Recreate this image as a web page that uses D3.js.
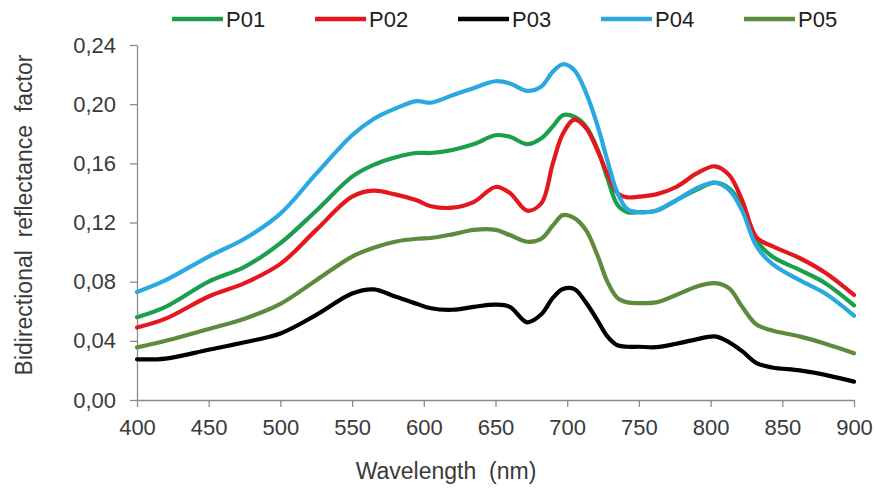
<!DOCTYPE html>
<html>
<head>
<meta charset="utf-8">
<script src="https://cdn.jsdelivr.net/npm/d3@7"></script>
<style>
  html, body { margin: 0; padding: 0; background: #fff; }
  svg { display: block; font-family: "Liberation Sans", Arial, sans-serif; }
  .axis text { fill: #3a3a3a; font-size: 22px; }
  .axis line, .axis path { stroke: #8c8c8c; stroke-width: 1.3; }
</style>
</head>
<body>
<svg id="chart" width="876" height="491"></svg>
<script>
// Wavelengths (nm) at which each spectrum is sampled
const wavelengths = [400, 420, 450, 475, 500, 525, 550, 565, 580, 595, 605, 620, 635, 650, 660, 672, 682, 690, 697, 705, 713, 721, 728, 735, 742, 750, 762, 776, 790, 803, 813, 822, 832, 843, 862, 880, 900];

// Bidirectional reflectance factor per plot
const p01 = [0.056, 0.063, 0.080, 0.090, 0.106, 0.128, 0.151, 0.159, 0.164, 0.167, 0.167, 0.169, 0.173, 0.179, 0.178, 0.173, 0.177, 0.185, 0.1925, 0.1915, 0.185, 0.170, 0.150, 0.132, 0.127, 0.127, 0.128, 0.135, 0.142, 0.147, 0.143, 0.131, 0.108, 0.097, 0.088, 0.079, 0.064];
const p02 = [0.049, 0.055, 0.070, 0.079, 0.092, 0.115, 0.1375, 0.1415, 0.139, 0.135, 0.131, 0.130, 0.134, 0.144, 0.140, 0.128, 0.133, 0.160, 0.180, 0.1895, 0.184, 0.169, 0.153, 0.140, 0.137, 0.1375, 0.139, 0.144, 0.153, 0.158, 0.152, 0.135, 0.110, 0.104, 0.096, 0.086, 0.071];
const p03 = [0.0275, 0.028, 0.034, 0.039, 0.045, 0.0575, 0.072, 0.0748, 0.070, 0.065, 0.062, 0.061, 0.063, 0.0645, 0.063, 0.0525, 0.058, 0.069, 0.075, 0.075, 0.066, 0.054, 0.043, 0.037, 0.036, 0.036, 0.0357, 0.038, 0.041, 0.043, 0.039, 0.033, 0.025, 0.022, 0.020, 0.017, 0.0124];
const p04 = [0.073, 0.081, 0.097, 0.109, 0.126, 0.153, 0.179, 0.190, 0.197, 0.202, 0.201, 0.206, 0.211, 0.2155, 0.214, 0.209, 0.212, 0.222, 0.227, 0.223, 0.208, 0.186, 0.162, 0.140, 0.129, 0.127, 0.128, 0.135, 0.143, 0.147, 0.142, 0.128, 0.104, 0.092, 0.081, 0.072, 0.057];
const p05 = [0.0356, 0.040, 0.048, 0.055, 0.065, 0.081, 0.097, 0.103, 0.107, 0.109, 0.1095, 0.112, 0.115, 0.115, 0.1115, 0.107, 0.109, 0.118, 0.125, 0.123, 0.115, 0.098, 0.080, 0.069, 0.066, 0.0655, 0.066, 0.071, 0.0766, 0.079, 0.0755, 0.063, 0.051, 0.047, 0.043, 0.038, 0.0316];

const seriesNames = ["P01", "P02", "P03", "P04", "P05"];
const seriesValues = [p01, p02, p03, p04, p05];
const seriesColors = ["#1c9f4c", "#e3171d", "#000000", "#29a9e0", "#5d8a3b"];

const xTicks = [400, 450, 500, 550, 600, 650, 700, 750, 800, 850, 900];
const yTicks = [0, 0.04, 0.08, 0.12, 0.16, 0.20, 0.24];

const margin = { left: 137, right: 22, top: 45, bottom: 91 };
const W = 876, H = 491;

const svg = d3.select("#chart");

const x = d3.scaleLinear().domain([400, 900]).range([margin.left, W - margin.right]);
const y = d3.scaleLinear().domain([0, 0.24]).range([H - margin.bottom, margin.top]);

// Axes
const fmt = d => d.toFixed(2).replace(".", ",");

svg.append("g")
  .attr("class", "axis")
  .attr("transform", `translate(0,${y(0)})`)
  .call(d3.axisBottom(x).tickValues(xTicks).tickSize(7).tickSizeOuter(0).tickPadding(12));

svg.append("g")
  .attr("class", "axis")
  .attr("transform", `translate(${x(400)},0)`)
  .call(d3.axisLeft(y).tickValues(yTicks).tickFormat(fmt).tickSize(7).tickSizeOuter(0).tickPadding(14));

// Spectra
const line = d3.line()
  .x((d, i) => x(wavelengths[i]))
  .y(d => y(d))
  .curve(d3.curveCatmullRom.alpha(0.5));

svg.append("g")
  .selectAll("path")
  .data(seriesValues)
  .join("path")
  .attr("d", line)
  .attr("fill", "none")
  .attr("stroke", (d, i) => seriesColors[i])
  .attr("stroke-width", 4.2)
  .attr("stroke-linejoin", "round")
  .attr("stroke-linecap", "round");

// Legend
const legend = svg.append("g")
  .selectAll("g")
  .data(seriesNames)
  .join("g")
  .attr("transform", (d, i) => `translate(${172 + i * 143},19)`);

legend.append("line")
  .attr("x1", 0).attr("x2", 51)
  .attr("stroke", (d, i) => seriesColors[i])
  .attr("stroke-width", 4.5);

legend.append("text")
  .attr("x", 54)
  .attr("y", 8)
  .attr("fill", "#202020")
  .style("font-size", "22px")
  .text(d => d);

// Axis titles
svg.append("text")
  .attr("x", 446)
  .attr("y", 479)
  .attr("text-anchor", "middle")
  .attr("fill", "#3a3a3a")
  .style("font-size", "23px")
  .style("white-space", "pre")
  .text("Wavelength  (nm)");

svg.append("text")
  .attr("transform", "translate(32,215) rotate(-90)")
  .attr("text-anchor", "middle")
  .attr("fill", "#3a3a3a")
  .style("font-size", "23px")
  .style("white-space", "pre")
  .text("Bidirectional  reflectance  factor");
</script>
</body>
</html>
